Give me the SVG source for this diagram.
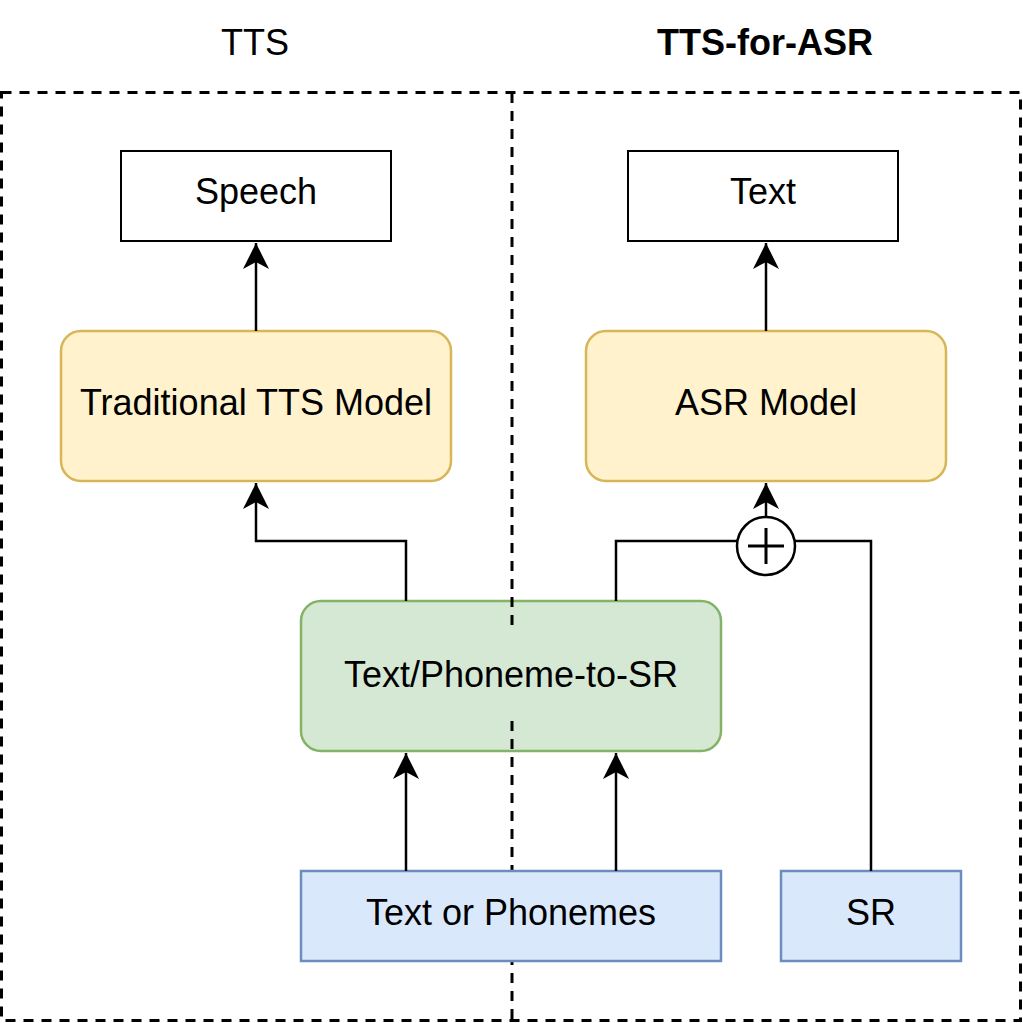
<svg xmlns="http://www.w3.org/2000/svg" width="1023" height="1023" viewBox="0 0 1023 1023">
<style>
text{font-family:"Liberation Sans",Arial,sans-serif;font-size:36px;fill:#000;text-anchor:middle;dominant-baseline:central}
.w{fill:#fff;stroke:#000;stroke-width:2}
.y{fill:#fff2cc;stroke:#d6b656;stroke-width:2.5}
.g{fill:#d5e8d4;stroke:#82b366;stroke-width:2.5}
.b{fill:#dae8fc;stroke:#6c8ebf;stroke-width:2.5}
.c{fill:none;stroke:#000;stroke-width:2.5}
.d{fill:none;stroke:#000;stroke-width:3;stroke-dasharray:10 8}
</style>
<defs>
<marker id="a" viewBox="0 0 28 28" refX="26" refY="14" markerWidth="28" markerHeight="28" markerUnits="userSpaceOnUse" orient="auto">
<path d="M26,14 L0,1 L7,14 L0,27 Z" fill="#000"/>
</marker>
</defs>
<g id="titles">
<text x="255" y="42">TTS</text>
<text x="765" y="42" font-weight="bold">TTS-for-ASR</text>
</g>
<g id="frame">
<rect class="d" x="1.5" y="92.5" width="1019" height="928"/>
</g>
<g id="speech"><rect class="w" x="121" y="151" width="270" height="90"/><text x="256" y="191">Speech</text></g>
<g id="text"><rect class="w" x="628" y="151" width="270" height="90"/><text x="763" y="191">Text</text></g>
<g id="tts"><rect class="y" x="61" y="331" width="390" height="150" rx="20"/><text x="256" y="402">Traditional TTS Model</text></g>
<g id="asr"><rect class="y" x="586" y="331" width="360" height="150" rx="20"/><text x="766" y="402">ASR Model</text></g>
<g id="t2sr"><rect class="g" x="301" y="601" width="420" height="150" rx="20"/><text x="511" y="674">Text/Phoneme-to-SR</text></g>
<g id="divider">
<path class="d" d="M512,93 V632 M512,721 V1021"/>
</g>
<g id="input"><rect class="b" x="301" y="871" width="420" height="90"/><text x="511" y="912">Text or Phonemes</text></g>
<g id="sr"><rect class="b" x="781" y="871" width="180" height="90"/><text x="871" y="912">SR</text></g>
<g id="plus">
<circle cx="766" cy="546" r="29" fill="#fff" stroke="#000" stroke-width="2.5"/>
<path d="M766,528 V564 M748,546 H784" stroke="#000" stroke-width="3" fill="none"/>
</g>
<g id="connectors">
<path class="c" d="M256,331 V243" marker-end="url(#a)"/>
<path class="c" d="M766,331 V243" marker-end="url(#a)"/>
<path class="c" d="M406,601 V541 H256 V483" marker-end="url(#a)"/>
<path class="c" d="M616,601 V541 H737"/>
<path class="c" d="M871,871 V541 H795"/>
<path class="c" d="M766,517 V483" marker-end="url(#a)"/>
<path class="c" d="M406,871 V753" marker-end="url(#a)"/>
<path class="c" d="M616,871 V753" marker-end="url(#a)"/>
</g>
</svg>
